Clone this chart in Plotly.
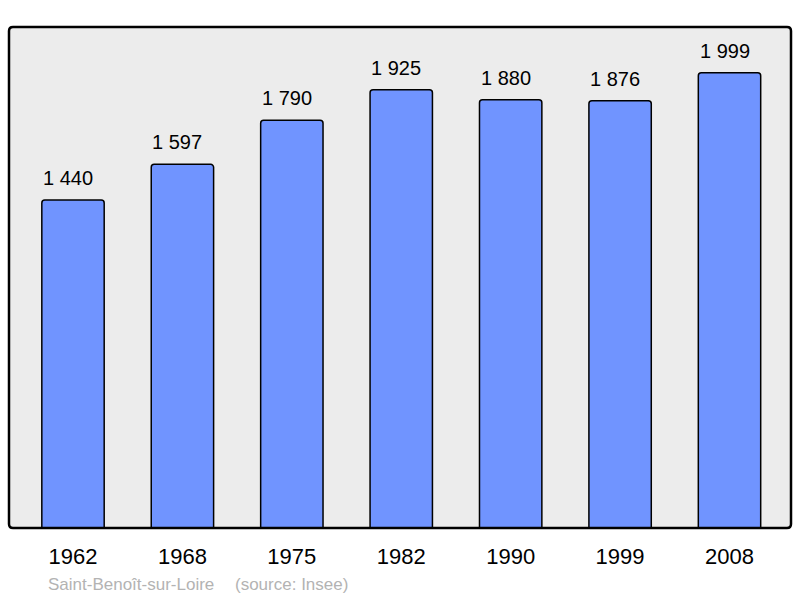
import plotly.graph_objects as go

years = ['1962', '1968', '1975', '1982', '1990', '1999', '2008']
population = [1440, 1597, 1790, 1925, 1880, 1876, 1999]
labels = ['1 440', '1 597', '1 790', '1 925', '1 880', '1 876', '1 999']

FONT = 'Liberation Sans, Arial, sans-serif'

fig = go.Figure()
fig.add_trace(go.Bar(
    x=list(range(len(years))),
    y=population,
    width=0.57,
    marker=dict(color='#7094ff', line=dict(color='#000000', width=1.5), cornerradius=3),
    hoverinfo='skip'
))

# value labels above the bars
for i, (v, t) in enumerate(zip(population, labels)):
    fig.add_annotation(x=i, y=v, text=t, showarrow=False, yanchor='bottom', yshift=9, xshift=-5,
                       font=dict(size=20, color='#000000', family=FONT))

# source line under the chart
fig.add_annotation(xref='paper', yref='paper', x=0.0475, y=-0.112, xanchor='left', yanchor='middle',
                   text='Saint-Benoît-sur-Loire', showarrow=False,
                   font=dict(size=17, color='#b3b3b3', family=FONT))
fig.add_annotation(xref='paper', yref='paper', x=0.2865, y=-0.112, xanchor='left', yanchor='middle',
                   text='(source: Insee)', showarrow=False,
                   font=dict(size=17, color='#b3b3b3', family=FONT))

# frame around the plot area, slightly rounded corners
rx, ry = 4 / 782, 4 / 501
frame = (f'M {rx},0 L {1 - rx},0 Q 1,0 1,{ry} L 1,{1 - ry} Q 1,1 {1 - rx},1 '
         f'L {rx},1 Q 0,1 0,{1 - ry} L 0,{ry} Q 0,0 {rx},0 Z')
fig.add_shape(type='path', xref='paper', yref='paper', path=frame,
              line=dict(color='#000000', width=2.5), layer='above')

fig.update_layout(
    width=800, height=598,
    margin=dict(l=9, r=9, t=27, b=70),
    paper_bgcolor='#ffffff',
    plot_bgcolor='#ececec',
    showlegend=False,
    font=dict(family=FONT, color='#000000'),
)
fig.update_xaxes(range=[-0.585, 6.562], tickmode='array', tickvals=list(range(len(years))),
                 ticktext=years, tickfont=dict(size=22), ticks='outside', ticklen=9,
                 tickcolor='rgba(0,0,0,0)', showgrid=False, zeroline=False, fixedrange=True)
fig.update_yaxes(range=[0, 2200], showticklabels=False, showgrid=False, zeroline=False, fixedrange=True)

fig.write_html('out.html', config={'displayModeBar': False},
               post_script="document.body.style.margin='0';")
